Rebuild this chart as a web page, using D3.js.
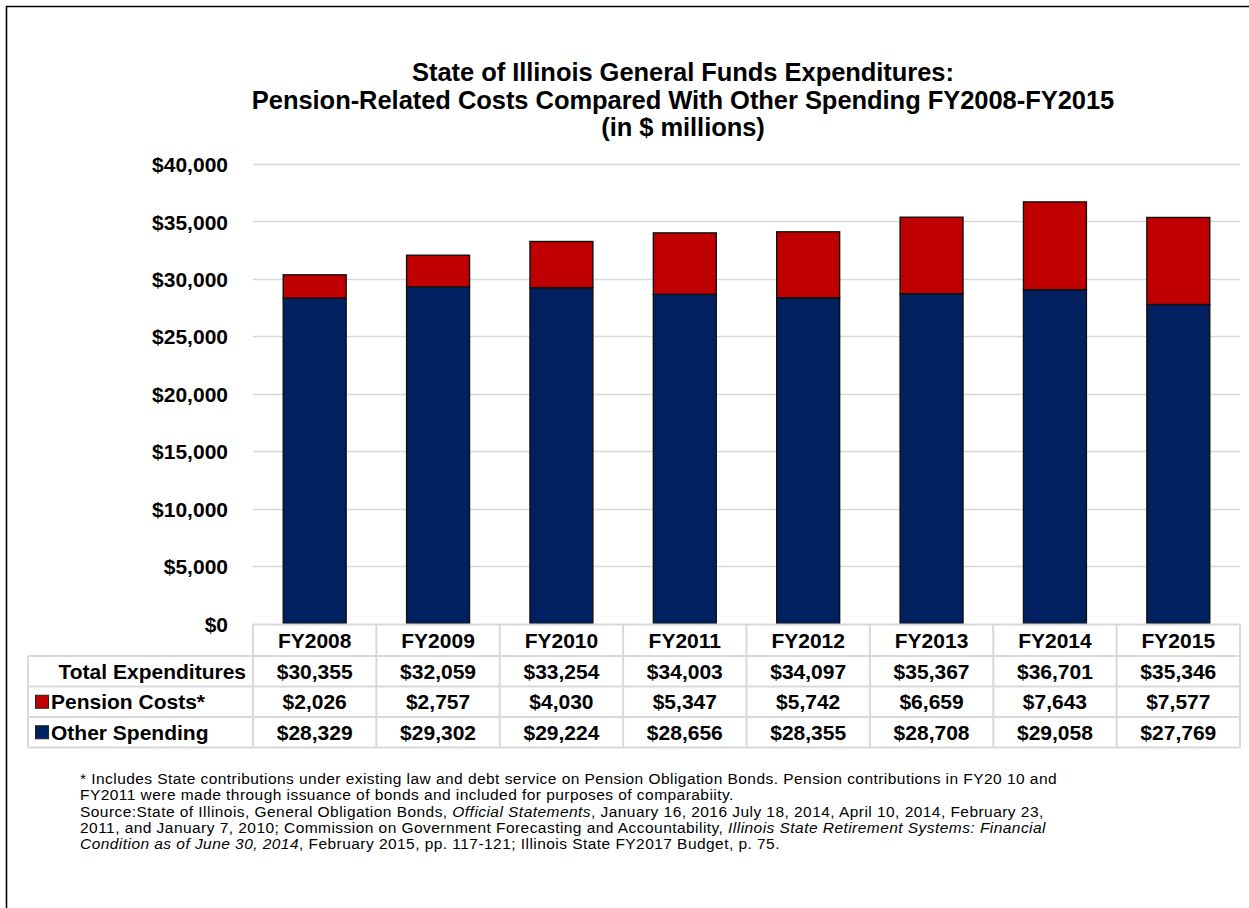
<!DOCTYPE html>
<html>
<head>
<meta charset="utf-8">
<script src="https://cdn.jsdelivr.net/npm/d3@7"></script>
<style>
  html, body { margin: 0; padding: 0; background: #fff; }
  svg { display: block; font-family: "Liberation Sans", Arial, sans-serif; }
</style>
</head>
<body>
<svg id="chart" width="1249" height="908"></svg>
<script>
const categories = ["FY2008","FY2009","FY2010","FY2011","FY2012","FY2013","FY2014","FY2015"];
const otherSpending = [28329, 29302, 29224, 28656, 28355, 28708, 29058, 27769];
const pensionCosts = [2026, 2757, 4030, 5347, 5742, 6659, 7643, 7577];
const totalExpenditures = [30355, 32059, 33254, 34003, 34097, 35367, 36701, 35346];
const yTicks = [0, 5000, 10000, 15000, 20000, 25000, 30000, 35000, 40000];
const titleLines = [
  "State of Illinois General Funds Expenditures:",
  "Pension-Related Costs Compared With Other Spending FY2008-FY2015",
  "(in $ millions)"
];
const rowLabels = ["Total Expenditures", "Pension Costs*", "Other Spending"];
const seriesColors = { pension: "#C00000", other: "#002060" };
const footnoteLines = [
  [["* Includes State contributions under existing law and debt service on Pension Obligation Bonds. Pension contributions in FY20 10 and", false]],
  [["FY2011 were made through issuance of bonds and included for purposes of comparabiity.", false]],
  [["Source:State of Illinois, General Obligation Bonds, ", false], ["Official Statements", true], [", January 16, 2016 July 18, 2014, April 10, 2014, February 23,", false]],
  [["2011, and January 7, 2010; Commission on Government Forecasting and Accountability, ", false], ["Illinois State Retirement Systems: Financial", true]],
  [["Condition as of June 30, 2014", true], [", February 2015, pp. 117-121; Illinois State FY2017 Budget, p. 75.", false]]
];

const svg = d3.select("#chart");

// outer border (top & left visible)
svg.append("path")
  .attr("d", "M6.5,1000 L6.5,6.5 L1260,6.5")
  .attr("fill", "none").attr("stroke", "#000").attr("stroke-width", 1.6);

// title
const title = svg.append("g");
titleLines.forEach((t, i) => {
  title.append("text")
    .attr("x", 683).attr("y", 81 + i * 27.5)
    .attr("text-anchor", "middle")
    .attr("font-weight", "bold").attr("font-size", 25.5)
    .attr("letter-spacing", -0.05)
    .attr("fill", "#000")
    .text(t);
});

const plotLeft = 253, plotRight = 1240, plotTop = 164, plotBottom = 623.5;

const x = d3.scaleBand().domain(categories).range([plotLeft, plotRight]).padding(0);
const y = d3.scaleLinear().domain([0, 40000]).range([plotBottom, plotTop]);

// gridlines
svg.append("g").selectAll("line").data(yTicks.filter(d => d > 0)).join("line")
  .attr("x1", plotLeft).attr("x2", plotRight)
  .attr("y1", d => Math.round(y(d)) + 0.5).attr("y2", d => Math.round(y(d)) + 0.5)
  .attr("stroke", "#d9d9d9").attr("stroke-width", 1.5);

// y axis labels
const fmt = d => "$" + d3.format(",")(d);
const yAxis = d3.axisLeft(y).tickValues(yTicks).tickFormat(fmt).tickSize(0).tickPadding(0);
const yg = svg.append("g").attr("transform", `translate(228,0)`).call(yAxis);
yg.select(".domain").remove();
yg.selectAll("text")
  .attr("font-family", "Liberation Sans, Arial, sans-serif")
  .attr("font-size", 21).attr("font-weight", "bold").attr("fill", "#000")
  .attr("dy", "0.36em");

// bars
const barW = x.bandwidth() * 0.51;
const barOff = (x.bandwidth() - barW) / 2;
const bars = svg.append("g");
bars.selectAll("rect.other").data(categories).join("rect")
  .attr("class", "other")
  .attr("x", d => x(d) + barOff)
  .attr("y", (d, i) => y(otherSpending[i]))
  .attr("width", barW)
  .attr("height", (d, i) => y(0) - y(otherSpending[i]))
  .attr("fill", seriesColors.other)
  .attr("stroke", "#111").attr("stroke-width", 1.4);
bars.selectAll("rect.pension").data(categories).join("rect")
  .attr("class", "pension")
  .attr("x", d => x(d) + barOff)
  .attr("y", (d, i) => y(otherSpending[i] + pensionCosts[i]))
  .attr("width", barW)
  .attr("height", (d, i) => y(otherSpending[i]) - y(otherSpending[i] + pensionCosts[i]))
  .attr("fill", seriesColors.pension)
  .attr("stroke", "#111").attr("stroke-width", 1.4);

// data table
const labelLeft = 28;
const rowTops = [624.5, 656, 686.5, 717, 747.5];
const tbl = svg.append("g");
const gridColor = "#d9d9d9";
rowTops.forEach((ry, i) => {
  tbl.append("line")
    .attr("x1", i === 0 ? plotLeft : labelLeft).attr("x2", plotRight)
    .attr("y1", ry).attr("y2", ry)
    .attr("stroke", gridColor).attr("stroke-width", 2);
});
const vx = categories.map(c => x(c)).concat([plotRight]);
vx.forEach(xx => {
  tbl.append("line").attr("x1", xx).attr("x2", xx)
    .attr("y1", rowTops[0]).attr("y2", rowTops[4])
    .attr("stroke", gridColor).attr("stroke-width", 2);
});
tbl.append("line").attr("x1", labelLeft).attr("x2", labelLeft)
  .attr("y1", rowTops[1]).attr("y2", rowTops[4])
  .attr("stroke", gridColor).attr("stroke-width", 2);

tbl.selectAll("text.hdr").data(categories).join("text")
  .attr("class", "hdr")
  .attr("x", d => x(d) + x.bandwidth() / 2)
  .attr("y", (rowTops[0] + rowTops[1]) / 2)
  .attr("dy", "0.36em")
  .attr("text-anchor", "middle")
  .attr("font-size", 21).attr("font-weight", "bold")
  .text(d => d);

const rowsData = [totalExpenditures, pensionCosts, otherSpending];
rowsData.forEach((vals, r) => {
  const cy = (rowTops[r + 1] + rowTops[r + 2]) / 2;
  tbl.selectAll(`text.r${r}`).data(vals).join("text")
    .attr("class", `r${r}`)
    .attr("x", (d, i) => x(categories[i]) + x.bandwidth() / 2)
    .attr("y", cy).attr("dy", "0.36em")
    .attr("text-anchor", "middle")
    .attr("font-size", 21).attr("font-weight", "bold")
    .text(d => fmt(d));
});

tbl.append("text")
  .attr("x", 246).attr("y", (rowTops[1] + rowTops[2]) / 2).attr("dy", "0.36em")
  .attr("text-anchor", "end").attr("font-size", 21).attr("font-weight", "bold")
  .text(rowLabels[0]);
[[rowLabels[1], seriesColors.pension, 2], [rowLabels[2], seriesColors.other, 3]].forEach(([lab, col, r]) => {
  const cy = (rowTops[r] + rowTops[r + 1]) / 2;
  tbl.append("rect").attr("x", 35.5).attr("y", cy - 6.5).attr("width", 13).attr("height", 13)
    .attr("fill", col).attr("stroke", "#222").attr("stroke-width", 1);
  tbl.append("text")
    .attr("x", 51).attr("y", cy).attr("dy", "0.36em")
    .attr("font-size", 21).attr("font-weight", "bold")
    .text(lab);
});

// footnote
const fn = svg.append("g");
footnoteLines.forEach((segs, i) => {
  const t = fn.append("text")
    .attr("x", 80).attr("y", 784 + i * 16.3)
    .attr("font-size", 15.5).attr("fill", "#000")
    .attr("letter-spacing", 0.45);
  segs.forEach(([s, it]) => {
    t.append("tspan").attr("font-style", it ? "italic" : "normal").text(s);
  });
});
</script>
</body>
</html>
